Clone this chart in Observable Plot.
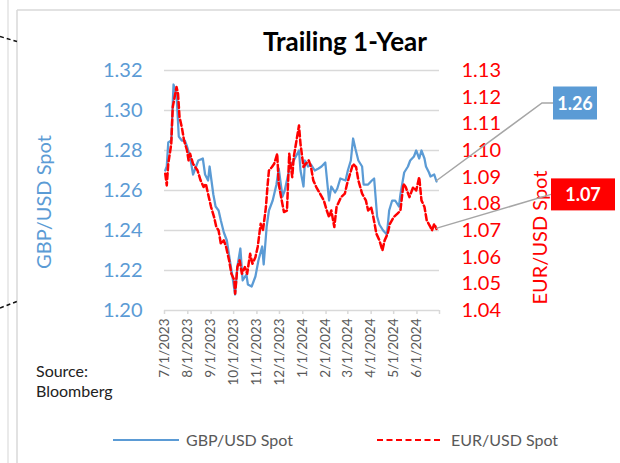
<!DOCTYPE html>
<html><head><meta charset="utf-8">
<script src="https://cdn.jsdelivr.net/npm/d3@7"></script>
<script src="https://cdn.jsdelivr.net/npm/@observablehq/plot@0.6"></script>
<style>
html,body{margin:0;padding:0;background:#fff;}
#wrap{position:relative;width:620px;height:463px;overflow:hidden;}
</style></head><body>
<div id="wrap"></div>
<script>
// ---- data ----
const gbpDates = ["2023-07-02","2023-07-04","2023-07-06","2023-07-10","2023-07-13","2023-07-17","2023-07-20","2023-07-24","2023-07-28","2023-07-31",
"2023-08-04","2023-08-08","2023-08-11","2023-08-15","2023-08-21","2023-08-24","2023-08-28","2023-08-30","2023-09-04","2023-09-07",
"2023-09-11","2023-09-14","2023-09-18","2023-09-22","2023-09-26","2023-09-29","2023-10-03","2023-10-06","2023-10-10","2023-10-13",
"2023-10-18","2023-10-20","2023-10-25","2023-10-30","2023-11-03","2023-11-08","2023-11-10","2023-11-14","2023-11-17","2023-11-22",
"2023-11-27","2023-11-30","2023-12-05","2023-12-08","2023-12-12","2023-12-15","2023-12-20","2023-12-27","2023-12-29","2024-01-02",
"2024-01-04","2024-01-08","2024-01-12","2024-01-17","2024-01-22","2024-01-26","2024-01-31","2024-02-05","2024-02-08","2024-02-13",
"2024-02-16","2024-02-20","2024-02-27","2024-03-01","2024-03-05","2024-03-08","2024-03-11","2024-03-15","2024-03-20","2024-03-22",
"2024-03-28","2024-04-02","2024-04-05","2024-04-09","2024-04-12","2024-04-17","2024-04-22","2024-04-25","2024-04-29","2024-05-03",
"2024-05-08","2024-05-10","2024-05-15","2024-05-20","2024-05-23","2024-05-28","2024-05-31","2024-06-04","2024-06-07","2024-06-11",
"2024-06-13","2024-06-17","2024-06-19","2024-06-24","2024-06-27"];
const gbpValues = [1.270,1.272,1.284,1.285,1.313,1.308,1.287,1.285,1.285,1.282,
1.277,1.268,1.271,1.275,1.276,1.268,1.265,1.272,1.258,1.252,
1.250,1.245,1.239,1.235,1.225,1.218,1.208,1.222,1.231,1.215,
1.218,1.213,1.212,1.217,1.225,1.232,1.223,1.242,1.250,1.255,
1.263,1.271,1.257,1.260,1.267,1.272,1.275,1.280,1.270,1.262,
1.275,1.272,1.273,1.270,1.271,1.272,1.274,1.255,1.262,1.259,
1.261,1.266,1.265,1.270,1.275,1.286,1.281,1.275,1.272,1.263,
1.263,1.265,1.266,1.247,1.243,1.240,1.238,1.250,1.255,1.255,
1.252,1.258,1.269,1.272,1.275,1.277,1.280,1.276,1.280,1.276,
1.272,1.269,1.267,1.268,1.2645];

const eurDates = ["2023-07-02","2023-07-04","2023-07-06","2023-07-10","2023-07-12","2023-07-17","2023-07-19","2023-07-21","2023-07-24","2023-07-27",
"2023-07-31","2023-08-02","2023-08-04","2023-08-08","2023-08-14","2023-08-18","2023-08-22","2023-08-25","2023-08-29","2023-09-01",
"2023-09-05","2023-09-08","2023-09-11","2023-09-14","2023-09-18","2023-09-21","2023-09-25","2023-09-28","2023-10-02","2023-10-03",
"2023-10-06","2023-10-09","2023-10-12","2023-10-16","2023-10-19","2023-10-23","2023-10-26","2023-10-30","2023-11-02","2023-11-06",
"2023-11-09","2023-11-13","2023-11-15","2023-11-17","2023-11-21","2023-11-24","2023-11-28","2023-11-30","2023-12-04","2023-12-07",
"2023-12-11","2023-12-14","2023-12-18","2023-12-20","2023-12-27","2023-12-29","2024-01-02","2024-01-05","2024-01-09","2024-01-12",
"2024-01-15","2024-01-19","2024-01-24","2024-01-29","2024-02-02","2024-02-05","2024-02-08","2024-02-12","2024-02-15","2024-02-21",
"2024-02-26","2024-02-29","2024-03-04","2024-03-08","2024-03-12","2024-03-15","2024-03-20","2024-03-25","2024-03-28","2024-04-01",
"2024-04-04","2024-04-08","2024-04-12","2024-04-16","2024-04-19","2024-04-23","2024-04-26","2024-05-01","2024-05-06","2024-05-10",
"2024-05-14","2024-05-17","2024-05-22","2024-05-27","2024-05-31","2024-06-04","2024-06-07","2024-06-11","2024-06-14","2024-06-19",
"2024-06-21","2024-06-24","2024-06-27"];
const eurValues = [1.0913,1.0869,1.0950,1.1025,1.1163,1.1238,1.1213,1.1125,1.1088,1.1038,
1.1000,1.0963,1.0988,1.0950,1.0925,1.0888,1.0863,1.0875,1.0825,1.0788,
1.0750,1.0713,1.0700,1.0650,1.0663,1.0638,1.0588,1.0538,1.0513,1.0463,
1.0563,1.0588,1.0538,1.0563,1.0538,1.0613,1.0575,1.0600,1.0638,1.0725,
1.0700,1.0788,1.0863,1.0925,1.0938,1.0950,1.0988,1.0875,1.0813,1.0769,
1.0775,1.0988,1.0900,1.0975,1.1094,1.1025,1.0938,1.0950,1.0963,1.0938,
1.0888,1.0863,1.0838,1.0813,1.0775,1.0750,1.0775,1.0713,1.0788,1.0825,
1.0838,1.0875,1.0913,1.0950,1.0938,1.0888,1.0838,1.0813,1.0775,1.0788,
1.0750,1.0688,1.0663,1.0625,1.0663,1.0688,1.0725,1.0750,1.0763,1.0775,
1.0875,1.0863,1.0825,1.0863,1.0850,1.0900,1.0813,1.0788,1.0738,1.0713,
1.0700,1.0725,1.0706];

const gbpTicks = [1.20,1.22,1.24,1.26,1.28,1.30,1.32];
const eurTicks = [1.04,1.05,1.06,1.07,1.08,1.09,1.10,1.11,1.12,1.13];
const monthTicks = ["2023-07-01","2023-08-01","2023-09-01","2023-10-01","2023-11-01","2023-12-01","2024-01-01",
"2024-02-01","2024-03-01","2024-04-01","2024-05-01","2024-06-01","2024-07-01"];
const seriesNames = ["GBP/USD Spot","EUR/USD Spot"];
const titleText = "Trailing 1-Year";
const sourceLines = ["Source:","Bloomberg"];

// ---- build ----
const parse = d3.utcParse("%Y-%m-%d");
const gDom = [gbpTicks[0], gbpTicks[gbpTicks.length-1]];
const eDom = [eurTicks[0], eurTicks[eurTicks.length-1]];
const toG = e => gDom[0] + (e - eDom[0]) * (gDom[1]-gDom[0]) / (eDom[1]-eDom[0]);
const fromG = g => eDom[0] + (g - gDom[0]) * (eDom[1]-eDom[0]) / (gDom[1]-gDom[0]);

const gbp = gbpDates.map((d,i)=>({date:parse(d), value:gbpValues[i]}));
const eur = eurDates.map((d,i)=>({date:parse(d), value:eurValues[i], g:toG(eurValues[i])}));
const ticks = monthTicks.map(parse);
const lastTick = ticks[ticks.length-1];
const fmtDate = d => +d === +lastTick ? "" : `${d.getUTCMonth()+1}/${d.getUTCDate()}/${d.getUTCFullYear()}`;

const BLUE = "#5B9BD5", RED = "#FF0000", GRID = "#D9D9D9", GRAYTXT = "#595959";
const FONT = "Lato, 'Open Sans', sans-serif";

const plot = Plot.plot({
  width: 620, height: 463,
  marginLeft: 164, marginRight: 181, marginTop: 70, marginBottom: 153,
  style: {fontFamily: FONT, background: "transparent", overflow: "visible"},
  x: {type: "utc", domain: [ticks[0], lastTick]},
  y: {domain: gDom},
  marks: [
    Plot.gridY(gbpTicks.slice(1), {stroke: GRID, strokeOpacity: 1, strokeWidth: 1.5}),
    Plot.ruleY([gDom[0]], {stroke: GRID, strokeWidth: 1.5}),
    Plot.axisX(ticks, {tickSize: 4, stroke: GRID, strokeWidth: 1.5, tickRotate: -90, tickFormat: fmtDate,
      fontSize: 13.5, fill: GRAYTXT, tickPadding: 4, label: null}),
    Plot.axisY(gbpTicks, {anchor: "left", tickSize: 0, tickPadding: 22, tickFormat: d3.format(".2f"),
      fontSize: 20, fill: BLUE, label: null}),
    Plot.axisY(eurTicks.map(toG), {anchor: "right", tickSize: 0, tickPadding: 22, tickFormat: g => fromG(g).toFixed(2),
      fontSize: 20, fill: RED, label: null}),
    Plot.line(gbp, {x: "date", y: "value", stroke: BLUE, strokeWidth: 2.25, strokeLinejoin: "round"}),
    Plot.line(eur, {x: "date", y: "g", stroke: RED, strokeWidth: 2.5, strokeDasharray: "6,3", strokeLinejoin: "round"})
  ]
});
document.getElementById("wrap").appendChild(plot);

const svg = d3.select(plot);
const xs = plot.scale("x"), ys = plot.scale("y");

// frame decorations
const deco = svg.insert("g", ":first-child");
deco.append("line").attr("x1",8).attr("y1",0).attr("x2",8).attr("y2",463).attr("stroke","#E3E3E3").attr("stroke-width",1.5);
deco.append("line").attr("x1",17).attr("y1",10).attr("x2",620).attr("y2",10).attr("stroke","#D9D9D9").attr("stroke-width",1.5);
deco.append("line").attr("x1",17).attr("y1",10).attr("x2",17).attr("y2",463).attr("stroke","#D9D9D9").attr("stroke-width",1.5);
deco.append("line").attr("x1",0).attr("y1",36.5).attr("x2",17).attr("y2",41.5).attr("stroke","#111").attr("stroke-width",1.5).attr("stroke-dasharray","4,3");
deco.append("line").attr("x1",0).attr("y1",308).attr("x2",17).attr("y2",301.5).attr("stroke","#111").attr("stroke-width",1.5).attr("stroke-dasharray","4,3");

const ann = svg.append("g").attr("font-family", FONT).attr("text-anchor","start");
// title
ann.append("text").attr("x",345).attr("y",51).attr("text-anchor","middle").attr("font-weight","bold")
  .attr("font-size",26).attr("fill","#000").text(titleText);
// axis titles
ann.append("text").attr("transform","translate(43,202) rotate(-90)").attr("text-anchor","middle")
  .attr("dominant-baseline","central").attr("font-size",20).attr("fill",BLUE).text(seriesNames[0]);
ann.append("text").attr("transform","translate(539,237.5) rotate(-90)").attr("text-anchor","middle")
  .attr("dominant-baseline","central").attr("font-size",20).attr("fill",RED).text(seriesNames[1]);
// source
sourceLines.forEach((s,i)=>ann.append("text").attr("x",36).attr("y",377+i*20).attr("text-anchor","start")
  .attr("font-size",16).attr("fill","#222").text(s));
// legend
ann.append("line").attr("x1",113).attr("x2",179).attr("y1",440).attr("y2",440).attr("stroke",BLUE).attr("stroke-width",2);
ann.append("text").attr("x",186).attr("y",445.5).attr("text-anchor","start").attr("font-size",16).attr("fill",GRAYTXT).text(seriesNames[0]);
ann.append("line").attr("x1",377).attr("x2",443).attr("y1",440).attr("y2",440).attr("stroke",RED).attr("stroke-width",2).attr("stroke-dasharray","6,3.5");
ann.append("text").attr("x",451).attr("y",445.5).attr("text-anchor","start").attr("font-size",16).attr("fill",GRAYTXT).text(seriesNames[1]);

// end-value callouts
const lastG = gbp[gbp.length-1], lastE = eur[eur.length-1];
const gx = xs.apply(lastG.date), gy = ys.apply(lastG.value);
const ex = xs.apply(lastE.date), ey = ys.apply(lastE.g);
ann.append("polyline").attr("points", `${gx},${gy} ${gx+106},${gy-78} ${gx+117},${gy-78}`)
  .attr("fill","none").attr("stroke","#A6A6A6").attr("stroke-width",1.5);
ann.append("rect").attr("x",gx+117).attr("y",gy-94.5).attr("width",44).attr("height",33).attr("fill",BLUE);
ann.append("text").attr("x",gx+139).attr("y",gy-78).attr("text-anchor","middle").attr("dominant-baseline","central")
  .attr("font-weight","bold").attr("font-size",18).attr("fill","#fff").text(lastG.value.toFixed(2));
ann.append("line").attr("x1",ex).attr("y1",ey).attr("x2",ex+115).attr("y2",ey-34)
  .attr("stroke","#A6A6A6").attr("stroke-width",1.5);
ann.append("rect").attr("x",ex+115).attr("y",ey-50).attr("width",64).attr("height",32).attr("fill",RED);
ann.append("text").attr("x",ex+147).attr("y",ey-34).attr("text-anchor","middle").attr("dominant-baseline","central")
  .attr("font-weight","bold").attr("font-size",18).attr("fill","#fff").text(lastE.value.toFixed(2));
</script>
</body></html>
